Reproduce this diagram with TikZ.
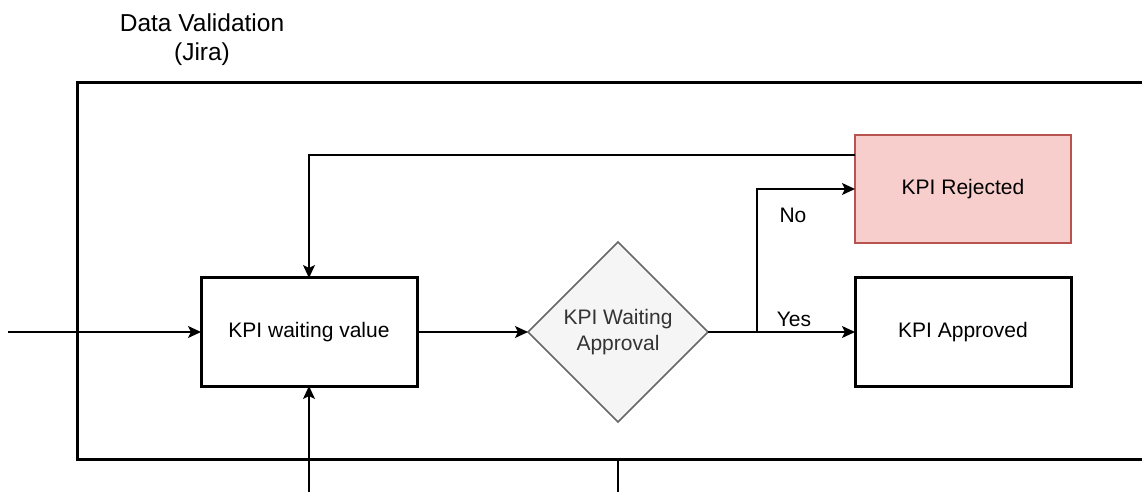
\documentclass[tikz,border=0pt]{standalone}
\usepackage{fontspec}
\setmainfont{Liberation Sans}
\usetikzlibrary{positioning,arrows.meta,shapes.geometric}
\definecolor{rejfill}{HTML}{F8CECC}
\definecolor{rejdraw}{HTML}{B85450}
\definecolor{decfill}{HTML}{F5F5F5}
\definecolor{decdraw}{HTML}{666666}
\definecolor{dectext}{HTML}{333333}
\tikzset{
>={Stealth[length=6.5pt,width=6pt,inset=1.5pt]},
stepbox/.style={ rectangle, draw=black, line width=1.5pt, minimum width=108pt, minimum height=54pt, text centered, outer sep=0pt, font=\fontsize{10.5}{12.75}\selectfont},
rejbox/.style={ stepbox, fill=rejfill, draw=rejdraw, line width=1.35pt},
decision/.style={ diamond, draw=decdraw, fill=decfill, text=dectext, line width=0.85pt, minimum width=90pt, minimum height=90pt, inner sep=0pt, outer sep=0pt, align=center, font=\fontsize{10.5}{12.75}\selectfont},
lanetitle/.style={ align=center, font=\fontsize{12.25}{14.5}\selectfont},
lbl/.style={ font=\fontsize{10.5}{12.75}\selectfont},
line/.style={draw, line width=0.75pt, ->},
merge/.style={draw, line width=0.75pt, -},
frame/.style={draw, line width=1.5pt},
}
\begin{document}
\begin{tikzpicture}
[x=0.5pt, y=-0.5pt]
\useasboundingbox (0,0) rectangle (1142,492);

% swimlane
\node[lanetitle] (title) at (202,40) {Data Validation\\(Jira)};
\draw[frame] (1142,83) -| (77,459) -- (1142,459);

% states
\node[stepbox] (wait) at (309,332) {KPI waiting value};
\node[decision] (approval) at (618,332) {KPI Waiting\\Approval};
\node[stepbox] (approved) at (963,332) {KPI Approved};
\node[rejbox, above=17.5pt of approved] (rejected) {KPI Rejected};

\coordinate (entry) at (8,332);
\coordinate (fromvalue) at (309,492);
\coordinate (split) at (757,332);
\coordinate (exittop) at (618,459);
\coordinate (exitbot) at (618,492);

% connectors
\draw[line] (entry) -- (wait.west);
\draw[line] (fromvalue) -- (wait.south);
\draw[line] ([yshift=-10pt]rejected.north west) -| (wait.north);
\draw[line] (wait.east) -- (approval.west);
\draw[merge] (approval.east) -- (split);
\draw[line] (split) |- (rejected.west);
\draw[line] (split) -- (approved.west);
\draw[merge] (exittop) -- (exitbot);

\node[lbl] (nolbl) at (793,215) {No};
\node[lbl] (yeslbl) at (794,319) {Yes};

\end{tikzpicture}
\end{document}
